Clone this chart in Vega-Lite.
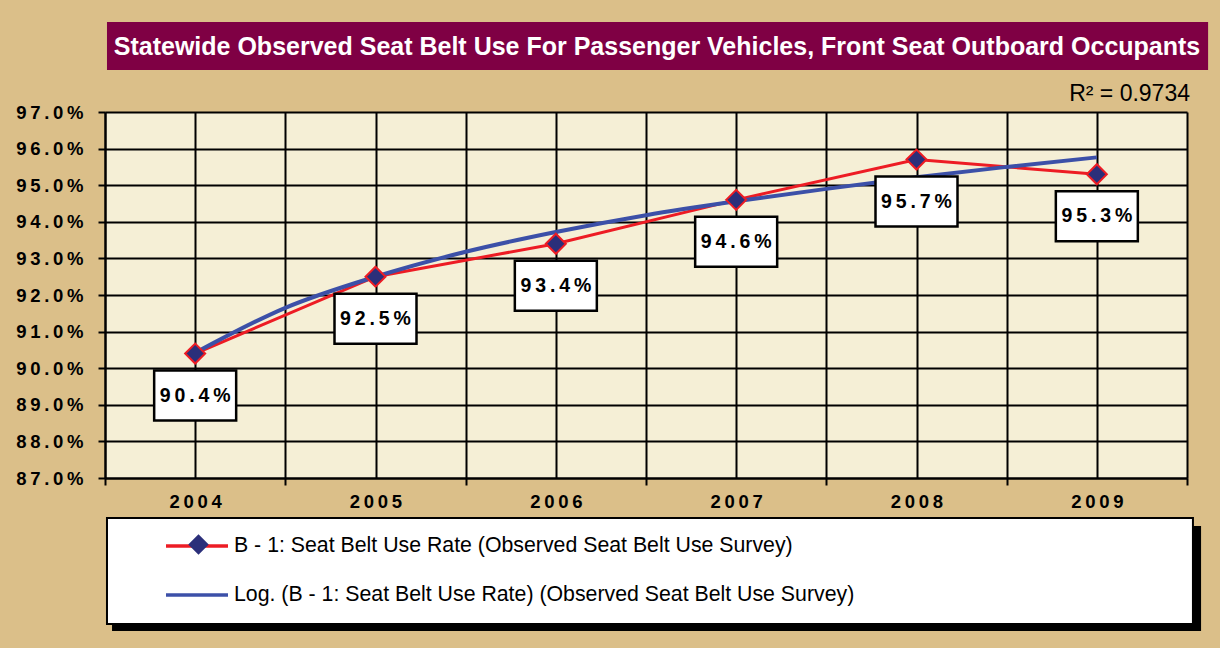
{
  "$schema": "https://vega.github.io/schema/vega-lite/v6.json",
  "width": 1082,
  "height": 366,
  "autosize": {"type": "none"},
  "padding": {"left": 105, "top": 112, "right": 33, "bottom": 170},
  "background": "#dbbf89",
  "title": {
    "text": "Statewide Observed Seat Belt Use For Passenger Vehicles, Front Seat Outboard Occupants",
    "color": "white",
    "font": "Liberation Sans",
    "fontSize": 25,
    "fontWeight": "bold",
    "anchor": "middle",
    "frame": "group",
    "offset": -38,
    "dx": 11
  },
  "data": {
    "values": [
      {"series": "B - 1: Seat Belt Use Rate (Observed Seat Belt Use Survey)", "year": 2004, "rate": 90.4},
      {"series": "B - 1: Seat Belt Use Rate (Observed Seat Belt Use Survey)", "year": 2005, "rate": 92.5},
      {"series": "B - 1: Seat Belt Use Rate (Observed Seat Belt Use Survey)", "year": 2006, "rate": 93.4},
      {"series": "B - 1: Seat Belt Use Rate (Observed Seat Belt Use Survey)", "year": 2007, "rate": 94.6},
      {"series": "B - 1: Seat Belt Use Rate (Observed Seat Belt Use Survey)", "year": 2008, "rate": 95.7},
      {"series": "B - 1: Seat Belt Use Rate (Observed Seat Belt Use Survey)", "year": 2009, "rate": 95.3},
      {"series": "Log. (B - 1: Seat Belt Use Rate) (Observed Seat Belt Use Survey)", "year": 2004, "rate": 90.42},
      {"series": "Log. (B - 1: Seat Belt Use Rate) (Observed Seat Belt Use Survey)", "year": 2004.5, "rate": 91.65},
      {"series": "Log. (B - 1: Seat Belt Use Rate) (Observed Seat Belt Use Survey)", "year": 2005, "rate": 92.5},
      {"series": "Log. (B - 1: Seat Belt Use Rate) (Observed Seat Belt Use Survey)", "year": 2005.5, "rate": 93.18},
      {"series": "Log. (B - 1: Seat Belt Use Rate) (Observed Seat Belt Use Survey)", "year": 2006, "rate": 93.72},
      {"series": "Log. (B - 1: Seat Belt Use Rate) (Observed Seat Belt Use Survey)", "year": 2006.5, "rate": 94.18},
      {"series": "Log. (B - 1: Seat Belt Use Rate) (Observed Seat Belt Use Survey)", "year": 2007, "rate": 94.56},
      {"series": "Log. (B - 1: Seat Belt Use Rate) (Observed Seat Belt Use Survey)", "year": 2007.5, "rate": 94.9},
      {"series": "Log. (B - 1: Seat Belt Use Rate) (Observed Seat Belt Use Survey)", "year": 2008, "rate": 95.22},
      {"series": "Log. (B - 1: Seat Belt Use Rate) (Observed Seat Belt Use Survey)", "year": 2008.5, "rate": 95.5},
      {"series": "Log. (B - 1: Seat Belt Use Rate) (Observed Seat Belt Use Survey)", "year": 2009, "rate": 95.76}
    ]
  },
  "layer": [
    {
      "data": {"values": [{}]},
      "mark": {"type": "rect", "fill": "#7f0044"},
      "encoding": {
        "x": {"datum": 2003.511, "type": "quantitative", "title": null, "scale": {"domain": [2003.5, 2009.5], "nice": false, "zero": false}},
        "x2": {"datum": 2009.617},
        "y": {"datum": 99.459, "type": "quantitative", "title": null, "scale": {"domain": [87, 97], "nice": false, "zero": false}},
        "y2": {"datum": 98.148}
      }
    },
    {
      "data": {"values": [{}]},
      "mark": {"type": "rect", "fill": "black"},
      "encoding": {
        "x": {"datum": 2003.539, "type": "quantitative", "title": null, "scale": {"domain": [2003.5, 2009.5], "nice": false, "zero": false}},
        "x2": {"datum": 2009.578},
        "y": {"datum": 85.689, "type": "quantitative", "title": null, "scale": {"domain": [87, 97], "nice": false, "zero": false}},
        "y2": {"datum": 82.82}
      }
    },
    {
      "data": {"values": [{}]},
      "mark": {"type": "rect", "fill": "white", "stroke": "black", "strokeWidth": 2},
      "encoding": {
        "x": {"datum": 2003.511, "type": "quantitative", "title": null, "scale": {"domain": [2003.5, 2009.5], "nice": false, "zero": false}},
        "x2": {"datum": 2009.533},
        "y": {"datum": 85.907, "type": "quantitative", "title": null, "scale": {"domain": [87, 97], "nice": false, "zero": false}},
        "y2": {"datum": 83.011}
      }
    },
    {
      "transform": [{"filter": "indexof(datum.series, 'Log.') !== 0"}],
      "mark": {"type": "line", "strokeWidth": 3},
      "encoding": {
        "x": {
          "field": "year", "type": "quantitative", "title": null,
          "scale": {"domain": [2003.5, 2009.5], "nice": false, "zero": false},
          "axis": {
            "values": [2003.5, 2004, 2004.5, 2005, 2005.5, 2006, 2006.5, 2007, 2007.5, 2008, 2008.5, 2009, 2009.5],
            "tickCount": 20,
            "grid": true, "gridColor": "black", "gridWidth": 2, "gridOpacity": 1,
            "domain": true, "domainColor": "black", "domainWidth": 2,
            "ticks": true, "tickColor": "black", "tickWidth": 2, "tickSize": 7,
            "tickOpacity": {"condition": {"test": "datum.value % 1 === 0", "value": 0}, "value": 1},
            "labelExpr": "datum.value % 1 === 0 ? replace(format(datum.value, 'd'), regexp('(.)(?=.)', 'g'), '$1\u2009') : ''",
            "labelFont": "Liberation Sans", "labelFontWeight": "bold", "labelFontSize": 18.5, "labelColor": "black",
            "labelPadding": 7, "labelFlush": false, "labelOverlap": false, "labelBound": false
          }
        },
        "y": {
          "field": "rate", "type": "quantitative", "title": null,
          "scale": {"domain": [87, 97], "nice": false, "zero": false},
          "axis": {
            "values": [87, 88, 89, 90, 91, 92, 93, 94, 95, 96, 97],
            "tickCount": 20,
            "grid": true, "gridColor": "black", "gridWidth": 2, "gridOpacity": 1,
            "domain": true, "domainColor": "black", "domainWidth": 2,
            "ticks": true, "tickColor": "black", "tickWidth": 2, "tickSize": 7,
            "labelExpr": "replace(format(datum.value, '.1f') + '%', regexp('(.)(?=.)', 'g'), '$1\u2009')",
            "labelFont": "Liberation Sans", "labelFontWeight": "bold", "labelFontSize": 18.5, "labelColor": "black",
            "labelPadding": 15, "labelOverlap": false, "labelFlush": false
          }
        },
        "stroke": {
          "field": "series", "type": "nominal",
          "scale": {
            "domain": ["B - 1: Seat Belt Use Rate (Observed Seat Belt Use Survey)", "Log. (B - 1: Seat Belt Use Rate) (Observed Seat Belt Use Survey)"],
            "range": ["#ed1c24", "#3c50a8"]
          },
          "legend": {
            "orient": "none", "legendX": 59, "legendY": 401, "title": null, "padding": 0,
            "symbolSize": 3844, "labelOffset": 4, "rowPadding": 5,
            "labelFont": "Liberation Sans", "labelFontSize": 21.3, "labelColor": "black", "labelLimit": 1000,
            "symbolStrokeWidth": 3.5
          }
        }
      }
    },
    {
      "transform": [{"filter": "indexof(datum.series, 'Log.') === 0"}],
      "mark": {"type": "line", "strokeWidth": 4, "interpolate": "monotone"},
      "encoding": {
        "x": {"field": "year", "type": "quantitative", "title": null, "scale": {"domain": [2003.5, 2009.5], "nice": false, "zero": false}},
        "y": {"field": "rate", "type": "quantitative", "title": null, "scale": {"domain": [87, 97], "nice": false, "zero": false}},
        "stroke": {"field": "series", "type": "nominal"}
      }
    },
    {
      "transform": [{"filter": "indexof(datum.series, 'Log.') !== 0"}],
      "mark": {"type": "point", "size": 400, "filled": true, "fill": "#2b2f7a", "stroke": "#ed1c24", "strokeWidth": 2, "opacity": 1},
      "encoding": {
        "x": {"field": "year", "type": "quantitative", "title": null, "scale": {"domain": [2003.5, 2009.5], "nice": false, "zero": false}},
        "y": {"field": "rate", "type": "quantitative", "title": null, "scale": {"domain": [87, 97], "nice": false, "zero": false}},
        "shape": {
          "field": "series", "type": "nominal",
          "scale": {"range": ["diamond"]},
          "legend": {
            "orient": "none", "legendX": 82, "legendY": 421, "title": null, "padding": 0,
            "labelExpr": "''", "symbolFillColor": "black", "symbolStrokeColor": "#ed1c24", "symbolStrokeWidth": 2.5, "symbolSize": 420,
            "encode": {"symbols": {"update": {"fill": {"value": "black"}}}}
          }
        }
      }
    },
    {
      "transform": [{"filter": "indexof(datum.series, 'Log.') !== 0"}],
      "mark": {"type": "point", "shape": "M-1,-0.61H1V0.61H-1Z", "size": 6724, "filled": true, "fill": "white", "stroke": "black", "strokeWidth": 2.5, "opacity": 1, "yOffset": 42},
      "encoding": {
        "x": {"field": "year", "type": "quantitative", "title": null, "scale": {"domain": [2003.5, 2009.5], "nice": false, "zero": false}},
        "y": {"field": "rate", "type": "quantitative", "title": null, "scale": {"domain": [87, 97], "nice": false, "zero": false}}
      }
    },
    {
      "transform": [{"filter": "indexof(datum.series, 'Log.') !== 0"}],
      "mark": {
        "type": "text", "font": "Liberation Sans", "fontWeight": "bold", "fontSize": 19.5, "color": "black",
        "align": "center", "baseline": "middle", "yOffset": 42,
        "text": {"expr": "replace(format(datum.rate, '.1f') + '%', regexp('(.)(?=.)', 'g'), '$1\u2009')"}
      },
      "encoding": {
        "x": {"field": "year", "type": "quantitative", "title": null, "scale": {"domain": [2003.5, 2009.5], "nice": false, "zero": false}},
        "y": {"field": "rate", "type": "quantitative", "title": null, "scale": {"domain": [87, 97], "nice": false, "zero": false}}
      }
    },
    {
      "data": {"values": [{"label": "R² = 0.9734"}]},
      "mark": {"type": "text", "font": "Liberation Sans", "fontSize": 23, "color": "black", "align": "right", "baseline": "alphabetic", "dx": 3, "dy": -11},
      "encoding": {
        "x": {"datum": 2009.5, "type": "quantitative", "title": null, "scale": {"domain": [2003.5, 2009.5], "nice": false, "zero": false}},
        "y": {"datum": 97, "type": "quantitative", "title": null, "scale": {"domain": [87, 97], "nice": false, "zero": false}},
        "text": {"field": "label", "type": "nominal"}
      }
    }
  ],
  "config": {
    "view": {"fill": "#f5efd6", "stroke": null},
    "font": "Liberation Sans"
  }
}
